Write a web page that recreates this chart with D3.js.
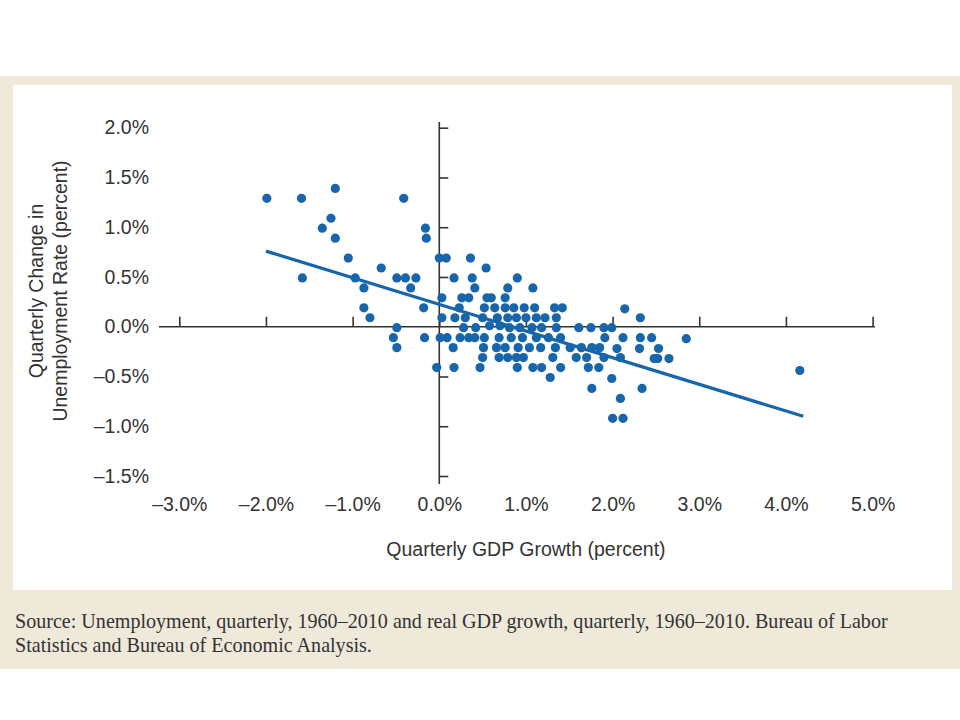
<!DOCTYPE html>
<html>
<head>
<meta charset="utf-8">
<script src="https://cdn.jsdelivr.net/npm/d3@7"></script>
<style>
  html, body { margin: 0; padding: 0; background: #ffffff; }
  svg { display: block; }
</style>
</head>
<body>
<svg id="chart" width="960" height="720"></svg>
<script>
// ---------------- DATA (percent) ----------------
const gdpGrowth = [
  -1.20,
  -1.99, -1.59, -0.41,
  -1.25,
  -1.35, -0.16,
  -1.20, -0.15,
  -1.05, 0.00, 0.08, 0.36,
  -0.67, 0.54,
  -1.58, -0.97, -0.49, -0.39, -0.27, 0.17, 0.38, 0.90,
  -0.87, -0.33, 0.41, 0.79, 1.08,
  0.03, 0.26, 0.34, 0.55, 0.60, 0.76,
  -0.87, -0.18, 0.23, 0.52, 0.64, 0.76, 0.86, 0.98, 1.10, 1.33, 1.42, 2.14,
  -0.80, 0.03, 0.18, 0.30, 0.50, 0.67, 0.79, 0.89, 1.00, 1.12, 1.22, 1.35, 2.32,
  -0.49, 0.28, 0.42, 0.58, 0.70, 0.81, 0.93, 1.07, 1.18, 1.35, 1.61, 1.75, 1.90, 1.99,
  -0.53, -0.17, 0.01, 0.09, 0.24, 0.34, 0.41, 0.52, 0.69, 0.83, 0.96, 1.12, 1.26, 1.40, 1.91, 2.12, 2.32, 2.45, 2.85,
  -0.49, 0.16, 0.51, 0.66, 0.76, 0.91, 1.04, 1.17, 1.34, 1.51, 1.64, 1.76, 1.85, 2.05, 2.31, 2.53,
  0.50, 0.69, 0.79, 0.89, 0.97, 1.31, 1.58, 1.70, 1.90, 2.09, 2.48, 2.52, 2.65,
  -0.03, 0.17, 0.47, 0.90, 1.08, 1.18, 1.40, 1.72, 1.84, 4.16,
  1.28, 1.99,
  1.76, 2.34,
  2.09,
  2.00, 2.12
];
const unempChange = [
  1.39,
  1.29, 1.29, 1.29,
  1.09,
  0.99, 0.99,
  0.89, 0.89,
  0.69, 0.69, 0.69, 0.69,
  0.59, 0.59,
  0.49, 0.49, 0.49, 0.49, 0.49, 0.49, 0.49, 0.49,
  0.39, 0.39, 0.39, 0.39, 0.39,
  0.29, 0.29, 0.29, 0.29, 0.29, 0.29,
  0.19, 0.19, 0.19, 0.19, 0.19, 0.19, 0.19, 0.19, 0.19, 0.19, 0.19, 0.18,
  0.09, 0.09, 0.09, 0.09, 0.09, 0.09, 0.09, 0.09, 0.09, 0.09, 0.09, 0.09, 0.09,
  -0.01, -0.01, -0.01, 0.01, 0.01, -0.01, -0.01, -0.01, -0.01, -0.01, -0.01, -0.01, -0.01, -0.01,
  -0.11, -0.11, -0.11, -0.11, -0.11, -0.11, -0.11, -0.11, -0.11, -0.11, -0.11, -0.11, -0.11, -0.11, -0.11, -0.11, -0.11, -0.11, -0.12,
  -0.21, -0.21, -0.21, -0.21, -0.21, -0.21, -0.21, -0.21, -0.21, -0.21, -0.21, -0.21, -0.21, -0.22, -0.22, -0.22,
  -0.31, -0.31, -0.31, -0.31, -0.31, -0.31, -0.31, -0.31, -0.31, -0.31, -0.32, -0.32, -0.32,
  -0.41, -0.41, -0.41, -0.41, -0.41, -0.41, -0.41, -0.41, -0.41, -0.44,
  -0.51, -0.52,
  -0.62, -0.62,
  -0.72,
  -0.92, -0.92
];
// fitted trend line end points
const trendX = [-2.0, 4.2];
const trendY = [0.76, -0.90];

const xTicks = [-3, -2, -1, 0, 1, 2, 3, 4, 5];
const yTicks = [-1.5, -1.0, -0.5, 0.0, 0.5, 1.0, 1.5, 2.0];

const xTitle = "Quarterly GDP Growth (percent)";
const yTitle = ["Quarterly Change in", "Unemployment Rate (percent)"];
const sourceLines = [
  "Source: Unemployment, quarterly, 1960\u20132010 and real GDP growth, quarterly, 1960\u20132010. Bureau of Labor",
  "Statistics and Bureau of Economic Analysis."
];

// ---------------- DRAWING ----------------
const svg = d3.select("#chart");
const beige = "#efe9da";
const ink = "#333333";
const blue = "#1765ab";
const sans = "'Liberation Sans', Arial, Helvetica, sans-serif";

svg.append("rect").attr("x", 0).attr("y", 76).attr("width", 960).attr("height", 593).attr("fill", beige);
svg.append("rect").attr("x", 13).attr("y", 85).attr("width", 939).attr("height", 505).attr("fill", "#ffffff");

const x = d3.scaleLinear().domain([-3, 5]).range([179.3, 872.6]);
const y = d3.scaleLinear().domain([-1.5, 2.0]).range([476, 127.7]);

const fmt = v => (v < 0 ? "\u2013" : "") + Math.abs(v).toFixed(1) + "%";

// x axis line with upward ticks
const gx = svg.append("g").attr("transform", `translate(0,${y(0)})`)
  .call(d3.axisTop(x).tickValues(xTicks).tickSize(10).tickSizeOuter(0).tickFormat(""));
gx.select(".domain").remove();
gx.selectAll(".tick line").attr("stroke", ink).attr("stroke-width", 1.6);
svg.append("line").attr("x1", 159).attr("x2", 875).attr("y1", y(0)).attr("y2", y(0))
  .attr("stroke", ink).attr("stroke-width", 1.6);

// y axis line with rightward ticks
const gy = svg.append("g").attr("transform", `translate(${x(0)},0)`)
  .call(d3.axisRight(y).tickValues(yTicks.filter(v => v !== 0)).tickSize(9).tickSizeOuter(0).tickFormat(""));
gy.select(".domain").remove();
gy.selectAll(".tick line").attr("stroke", ink).attr("stroke-width", 1.6);
svg.append("line").attr("x1", x(0)).attr("x2", x(0)).attr("y1", 122).attr("y2", 484)
  .attr("stroke", ink).attr("stroke-width", 1.6);

// y tick labels (left of plot)
const gyl = svg.append("g").attr("transform", "translate(149,0)")
  .call(d3.axisLeft(y).tickValues(yTicks).tickSize(0).tickPadding(0).tickFormat(fmt));
gyl.select(".domain").remove();
gyl.selectAll("text").attr("font-family", sans).attr("font-size", 19.5).attr("fill", ink);

// x tick labels (below plot)
const gxl = svg.append("g").attr("transform", "translate(0,497)")
  .call(d3.axisBottom(x).tickValues(xTicks).tickSize(0).tickPadding(0).tickFormat(fmt));
gxl.select(".domain").remove();
gxl.selectAll("text").attr("font-family", sans).attr("font-size", 19.5).attr("fill", ink);

// points
const pts = gdpGrowth.map((g, i) => [g, unempChange[i]]);
svg.append("g").selectAll("circle").data(pts).join("circle")
  .attr("cx", d => x(d[0])).attr("cy", d => y(d[1])).attr("r", 4.6).attr("fill", blue);

// trend line
svg.append("line")
  .attr("x1", x(trendX[0])).attr("y1", y(trendY[0]))
  .attr("x2", x(trendX[1])).attr("y2", y(trendY[1]))
  .attr("stroke", blue).attr("stroke-width", 3.2).attr("stroke-linecap", "butt");

// axis titles
svg.append("text").attr("x", (x(-3) + x(5)) / 2).attr("y", 556)
  .attr("text-anchor", "middle").attr("font-family", sans).attr("font-size", 19.5).attr("fill", ink)
  .text(xTitle);

svg.append("g").selectAll("text").data(yTitle).join("text")
  .attr("transform", (d, i) => `translate(${43 + i * 24},291) rotate(-90)`)
  .attr("text-anchor", "middle").attr("font-family", sans).attr("font-size", 19.5).attr("fill", ink)
  .text(d => d);

// source note
const src = svg.append("g").selectAll("text").data(sourceLines).join("text")
  .attr("x", 15).attr("y", (d, i) => 628 + i * 24)
  .attr("font-family", "'Liberation Serif', 'Times New Roman', serif").attr("font-size", 20)
  .attr("fill", "#333333")
  .text(d => d);
// fit first line to its measured width in the reference
const w0 = src.nodes()[0].getComputedTextLength();
const fs = 20 * 873 / w0;
src.attr("font-size", fs);
</script>
</body>
</html>
